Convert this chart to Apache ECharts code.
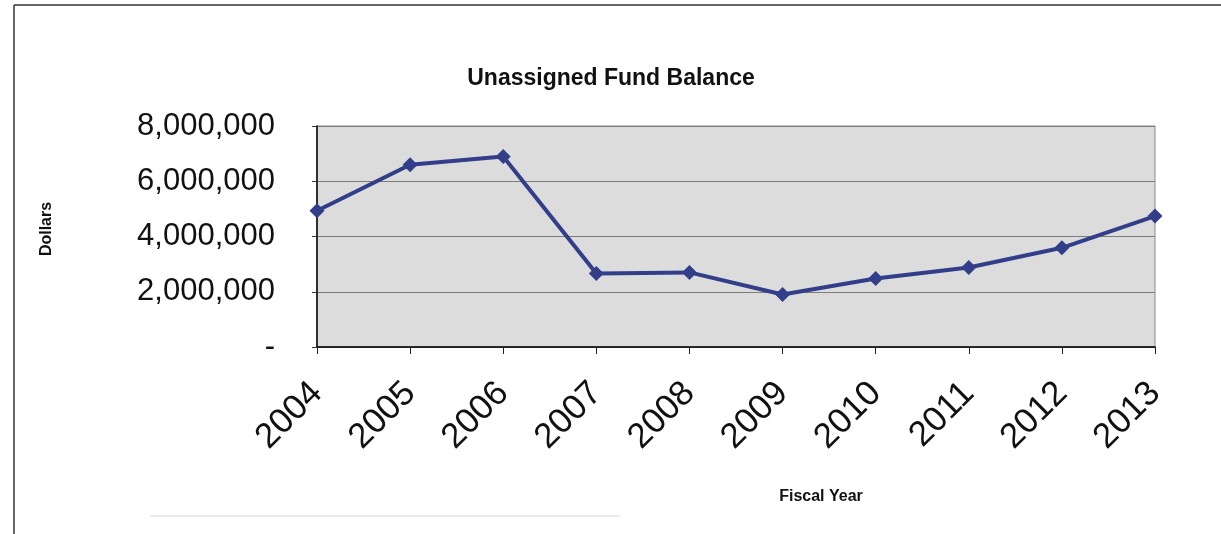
<!DOCTYPE html>
<html>
<head>
<meta charset="utf-8">
<script src="https://cdn.jsdelivr.net/npm/echarts@6/dist/echarts.min.js"></script>
<style>
  html, body { margin: 0; padding: 0; background: #ffffff; }
  #chart { width: 1221px; height: 534px; }
</style>
</head>
<body>
<div id="chart"></div>
<script>
// Fiscal years and unassigned fund balance (dollars)
const years = ['2004', '2005', '2006', '2007', '2008', '2009', '2010', '2011', '2012', '2013'];
const balance = [4930000, 6600000, 6900000, 2660000, 2700000, 1900000, 2480000, 2880000, 3590000, 4740000];
const yTicks = [0, 2000000, 4000000, 6000000, 8000000];

const lineColor = '#323e8a';
const font = '"Liberation Sans", Arial, sans-serif';

const chart = echarts.init(document.getElementById('chart'));

chart.setOption({
  animation: false,
  backgroundColor: '#ffffff',
  title: {
    text: 'Unassigned Fund Balance',
    left: 606,
    top: 62,
    textAlign: 'center',
    textStyle: { fontFamily: font, fontWeight: 'bold', fontSize: 23, color: '#111' }
  },
  grid: {
    left: 317,
    right: 66,
    top: 126,
    bottom: 187,
    show: true,
    backgroundColor: '#dcdcdc',
    borderColor: '#8a8a8a',
    borderWidth: 1
  },
  xAxis: {
    type: 'category',
    data: years,
    boundaryGap: false,
    axisLine: { show: true, lineStyle: { color: '#000', width: 1.5 } },
    axisTick: { show: true, alignWithLabel: true, length: 7, lineStyle: { color: '#222' } },
    axisLabel: {
      rotate: 45,
      margin: 41,
      fontFamily: font,
      fontSize: 35,
      color: '#111'
    },
    splitLine: { show: false }
  },
  yAxis: {
    type: 'value',
    min: yTicks[0],
    max: yTicks[yTicks.length - 1],
    interval: yTicks[1] - yTicks[0],
    axisLine: { show: true, lineStyle: { color: '#000', width: 1.5 } },
    axisTick: { show: true, length: 5, lineStyle: { color: '#333' } },
    axisLabel: {
      margin: 42,
      fontFamily: font,
      fontSize: 31,
      color: '#111',
      formatter: function (v) { return v === 0 ? '-' : v.toLocaleString('en-US'); }
    },
    splitLine: { show: true, lineStyle: { color: '#7c7c7c', width: 1 } }
  },
  series: [{
    type: 'line',
    data: balance,
    symbol: 'diamond',
    symbolSize: 15,
    lineStyle: { color: lineColor, width: 4 },
    itemStyle: { color: lineColor }
  }],
  graphic: [
    // chart frame
    { type: 'line', shape: { x1: 14, y1: 5, x2: 1221, y2: 5 }, style: { stroke: '#333', lineWidth: 1.5 } },
    { type: 'line', shape: { x1: 14, y1: 5, x2: 14, y2: 534 }, style: { stroke: '#333', lineWidth: 1.5 } },
    { type: 'line', shape: { x1: 150, y1: 516, x2: 620, y2: 516 }, style: { stroke: '#e6e6e6', lineWidth: 1.5 } },
    // axis titles
    {
      type: 'text',
      x: 47, y: 229,
      rotation: Math.PI / 2,
      style: {
        text: 'Dollars', fontFamily: font, fontWeight: 'bold', fontSize: 16,
        fill: '#111', textAlign: 'center', textVerticalAlign: 'middle'
      }
    },
    {
      type: 'text',
      x: 821, y: 497,
      style: {
        text: 'Fiscal Year', fontFamily: font, fontWeight: 'bold', fontSize: 16,
        fill: '#111', textAlign: 'center', textVerticalAlign: 'middle'
      }
    }
  ]
});
</script>
</body>
</html>
